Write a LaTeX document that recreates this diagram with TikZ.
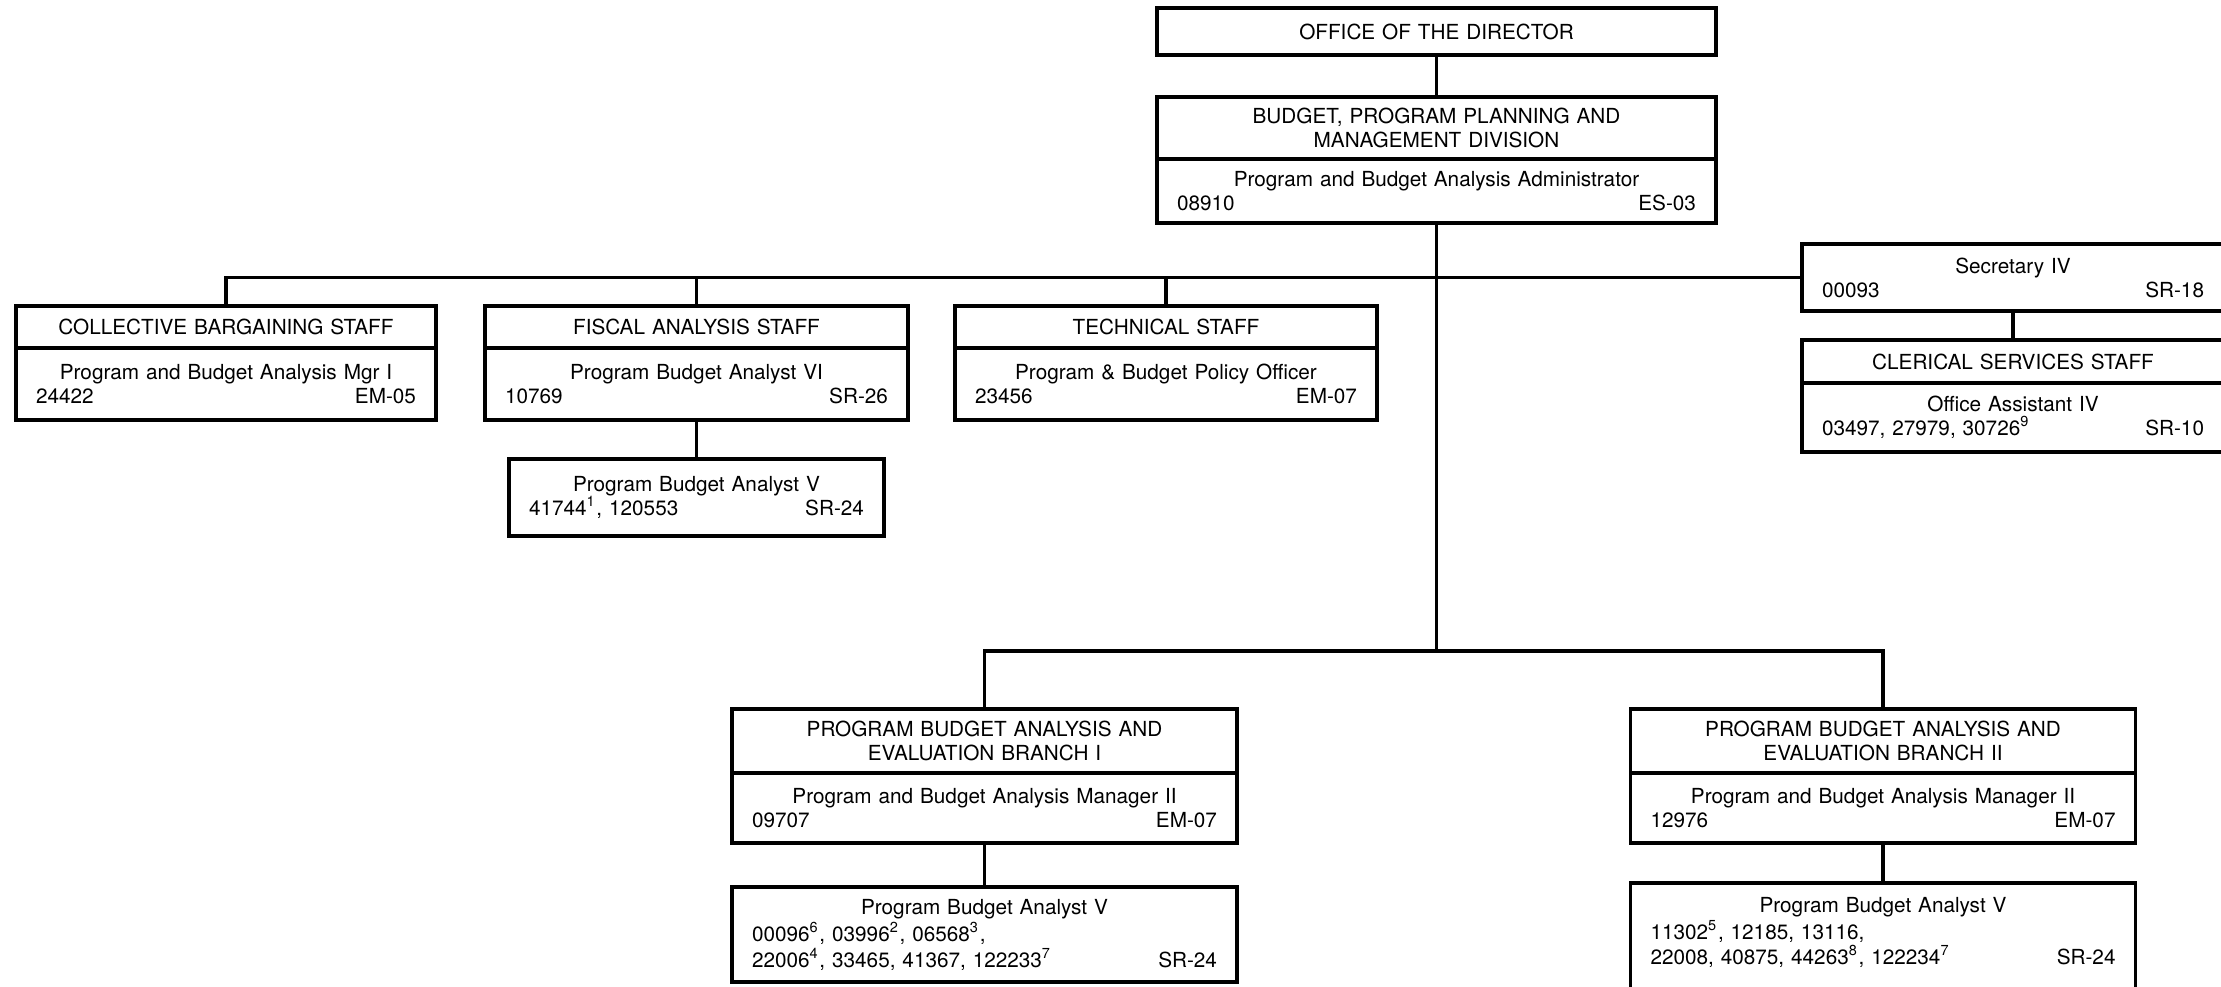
\documentclass[tikz,border=0pt]{standalone}
\usepackage{fontspec}
\setmainfont{TeX Gyre Heros}
\usetikzlibrary{positioning}
\def\orgfont{\fontsize{5.9}{6.8}\selectfont}

\begin{document}
\begin{tikzpicture}[
				orgbox/.style 2 args={draw, line width=0.9pt, outer sep=0pt, inner xsep=0.2cm, inner ysep=0pt, align=center, font=\orgfont, text width=#1, minimum height=#2},
				tight/.style={font=\fontsize{5.9}{5.9}\selectfont},
				link/.style={line width=0.9pt}
			]
				\path[use as bounding box, fill=white] (0,0) rectangle (22.21,-9.86);
				
				\node[orgbox={5.19cm}{0.47cm}] (dir) at (14.365,-0.315) {OFFICE OF THE DIRECTOR};
				\node[orgbox={5.19cm}{0.62cm}] (bpp) at (14.365,-1.28) {BUDGET, PROGRAM PLANNING AND\\ MANAGEMENT DIVISION};
				\node[orgbox={5.19cm}{0.64cm}, below=0pt of bpp] (bppb) {Program and Budget Analysis Administrator\\ 08910\hfill ES-03};
				
				\node[orgbox={3.80cm}{0.42cm}] (cbs) at (2.26,-3.27) {COLLECTIVE BARGAINING STAFF};
				\node[orgbox={3.80cm}{0.72cm}, below=0pt of cbs] (cbsb) {Program and Budget Analysis Mgr I\\ 24422\hfill EM-05};
				
				\node[orgbox={3.83cm}{0.42cm}] (fas) at (6.965,-3.27) {FISCAL ANALYSIS STAFF};
				\node[orgbox={3.83cm}{0.72cm}, below=0pt of fas] (fasb) {Program Budget Analyst VI\\ 10769\hfill SR-26};
				\node[orgbox={3.35cm}{0.77cm}, below=0.39cm of fasb] (fasc) {Program Budget Analyst V\\ 41744\textsuperscript{1}, 120553\hfill SR-24};
				
				\node[orgbox={3.82cm}{0.42cm}] (tec) at (11.66,-3.27) {TECHNICAL STAFF};
				\node[orgbox={3.82cm}{0.72cm}, below=0pt of tec] (tecb) {Program \& Budget Policy Officer\\ 23456\hfill EM-07};
				
				\node[orgbox={3.82cm}{0.67cm}] (sec) at (20.13,-2.775) {Secretary IV\\ 00093\hfill SR-18};
				\node[orgbox={3.82cm}{0.43cm}, below=0.29cm of sec] (csv) {CLERICAL SERVICES STAFF};
				\node[orgbox={3.82cm}{0.69cm}, below=0pt of csv] (csvb) {Office Assistant IV\\ 03497, 27979, 30726\textsuperscript{9}\hfill SR-10};
				
				\node[orgbox={4.65cm}{0.64cm}] (br1) at (9.845,-7.41) {PROGRAM BUDGET ANALYSIS AND\\ EVALUATION BRANCH I};
				\node[orgbox={4.65cm}{0.70cm}, below=0pt of br1] (br1b) {Program and Budget Analysis Manager II\\ 09707\hfill EM-07};
				\node[orgbox={4.65cm}{0.95cm}, tight, below=0.44cm of br1b] (br1c) {Program Budget Analyst V\\ 00096\textsuperscript{6}, 03996\textsuperscript{2}, 06568\textsuperscript{3},\hfill\null\\ 22006\textsuperscript{4}, 33465, 41367, 122233\textsuperscript{7}\hfill SR-24};
				
				\node[orgbox={4.65cm}{0.64cm}] (br2) at (18.83,-7.41) {PROGRAM BUDGET ANALYSIS AND\\ EVALUATION BRANCH II};
				\node[orgbox={4.65cm}{0.70cm}, below=0pt of br2] (br2b) {Program and Budget Analysis Manager II\\ 12976\hfill EM-07};
				\node[orgbox={4.65cm}{0cm}, tight, inner ysep=0.14cm, below=0.40cm of br2b] (br2c) {Program Budget Analyst V\\ 11302\textsuperscript{5}, 12185, 13116,\hfill\null\\ 22008, 40875, 44263\textsuperscript{8}, 122234\textsuperscript{7}\rule[-0.45cm]{0pt}{0.1pt}\hfill SR-24};
				
				\coordinate (bbar) at (0,-6.51);
				
				\draw[link] (dir) -- (bpp);
				\draw[link] (bppb.south) -- (bppb.south |- bbar);
				\draw[link] (cbs.north) |- (sec.west);
				\draw[link] (fas.north) -- (fas.north |- sec.west);
				\draw[link] (tec.north) -- (tec.north |- sec.west);
				\draw[link] (fasb) -- (fasc);
				\draw[link] (sec) -- (csv);
				\draw[link] (br1.north) |- (bbar -| br2.north) -- (br2.north);
				\draw[link] (br1b) -- (br1c);
				\draw[link] (br2b) -- (br2c);
			\end{tikzpicture}
\end{document}
